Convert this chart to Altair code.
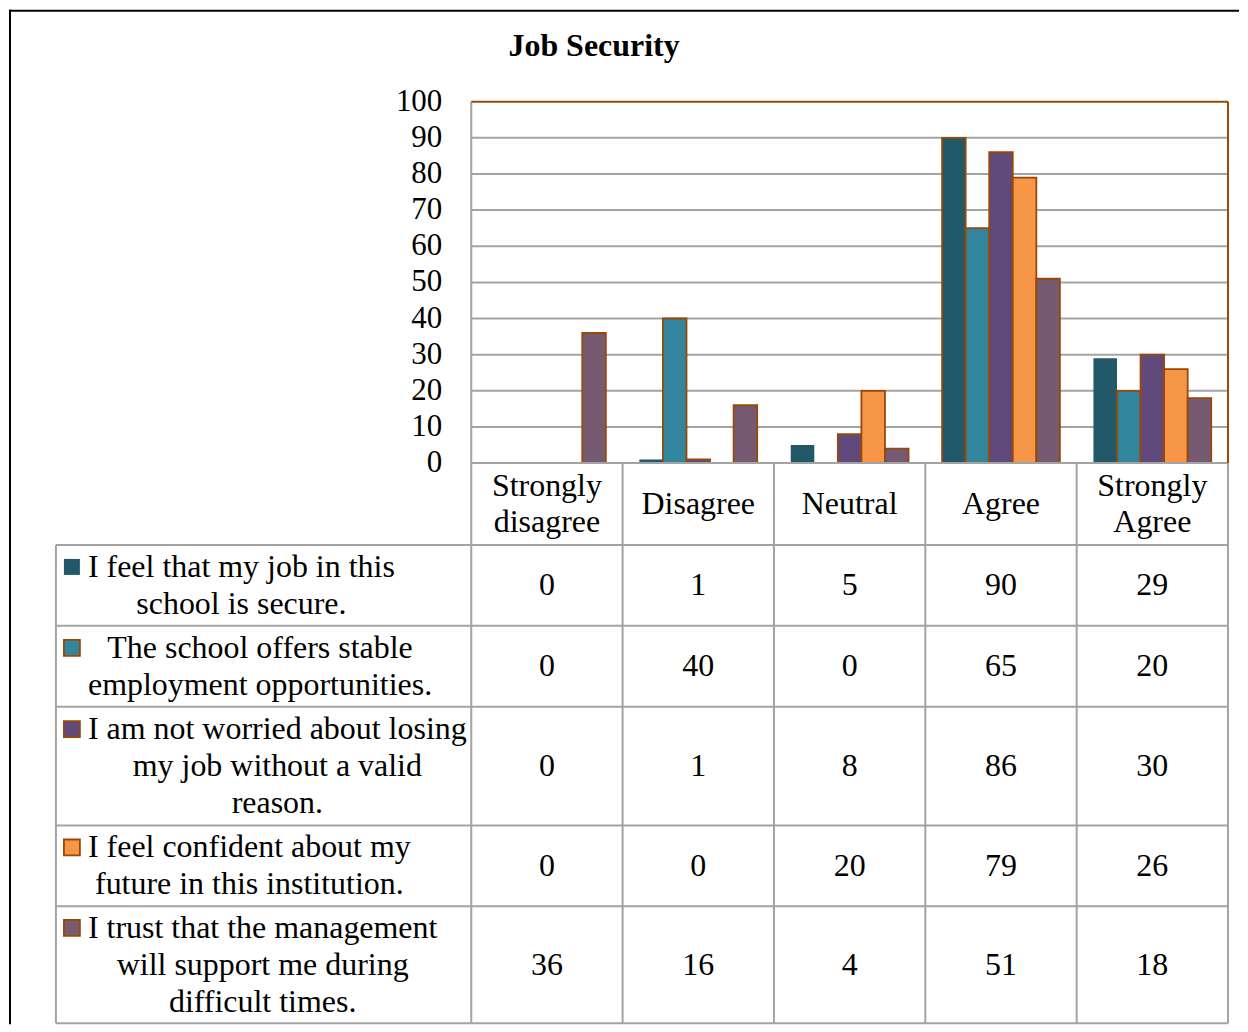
import altair as alt
import pandas as pd

# ---------------- data ----------------
title_text = "Job Security"
categories = ["Strongly disagree", "Disagree", "Neutral", "Agree", "Strongly Agree"]
category_lines = ["Strongly\ndisagree", "Disagree", "Neutral", "Agree", "Strongly\nAgree"]
series_labels = [
    "I feel that my job in this\nschool is secure.",
    "The school offers stable\nemployment opportunities.",
    "I am not worried about losing\nmy job without a valid\nreason.",
    "I feel confident about my\nfuture in this institution.",
    "I trust that the management\nwill support me during\ndifficult times.",
]
values_s1 = [0, 1, 5, 90, 29]
values_s2 = [0, 40, 0, 65, 20]
values_s3 = [0, 1, 8, 86, 30]
values_s4 = [0, 0, 20, 79, 26]
values_s5 = [36, 16, 4, 51, 18]
series_values = [values_s1, values_s2, values_s3, values_s4, values_s5]
y_ticks = [0, 10, 20, 30, 40, 50, 60, 70, 80, 90, 100]

# ---------------- styles ----------------
series_colors = ["#215968", "#31859C", "#604A7B", "#F79646", "#765A72"]
BROWN = "#984807"
GRID = "#A3A3A3"
FONT = "Liberation Serif"
FS = 32
TICK_FS = 31
LH = 37

# ---------------- layout (page pixels) ----------------
ORIGIN = 8
W, H = 1232, 1016
COL0, COLW = 471, 151.6
ZERO_Y, PX_PER_VAL = 462, 3.62
XMIN = (ORIGIN - COL0) / COLW
XMAX = XMIN + W / COLW
YMAX = (ZERO_Y - ORIGIN) / PX_PER_VAL
YMIN = YMAX - H / PX_PER_VAL


def ux(px):
    return (px - COL0) / COLW


def uy(py):
    return (ZERO_Y - py) / PX_PER_VAL


TABLE_LEFT = 55
ROW_EDGES = [544, 625, 706, 825, 906, 1023]
TABLE_BOTTOM = ROW_EDGES[-1]
HEADER_CENTER = (ZERO_Y + ROW_EDGES[0]) / 2
BAR_W = 23.6 / COLW
TEXT_LEFT = 87
SWATCH_X = 71
TICK_RIGHT = 442
TITLE_X, TITLE_Y = 594, 44

# Times New Roman advance widths (1/1000 em)
TNR = {" ": 250, ".": 250, ",": 250, "a": 444, "b": 500, "c": 444, "d": 500, "e": 444,
       "f": 333, "g": 500, "h": 500, "i": 278, "j": 278, "k": 500, "l": 278, "m": 778,
       "n": 500, "o": 500, "p": 500, "q": 500, "r": 333, "s": 389, "t": 278, "u": 500,
       "v": 500, "w": 722, "x": 500, "y": 500, "z": 444, "I": 333, "T": 611}


def text_width(s, size):
    return sum(TNR.get(c, 500) for c in s) / 1000.0 * size


def first_line_y(center_px, text):
    n = len(text.split("\n"))
    return center_px - (n - 1) / 2 * LH


xs = alt.Scale(domain=[XMIN, XMAX], nice=False, zero=False)
ys = alt.Scale(domain=[YMIN, YMAX], nice=False, zero=False)

# ---------------- bars ----------------
bar_rows = []
for j, vals in enumerate(series_values):
    for i, v in enumerate(vals):
        if v <= 0:
            continue
        x0 = i + 0.5 + (j - 2.5) * BAR_W
        bar_rows.append({"cat": categories[i], "series": j, "value": v,
                         "x0": x0, "x1": x0 + BAR_W, "fill": series_colors[j],
                         "outlined": not (j == 0 and categories[i] != "Agree")})
bars_df = pd.DataFrame(bar_rows)

bars = alt.Chart(bars_df).mark_bar(strokeWidth=1.8).encode(
    x=alt.X("x0:Q", scale=xs, axis=None),
    x2="x1:Q",
    y=alt.Y("value:Q", scale=ys, axis=None),
    y2=alt.datum(0),
    fill=alt.Fill("fill:N", scale=None),
    stroke=alt.condition("datum.outlined", alt.value(BROWN), alt.value(None)),
)


# ---------------- rules ----------------
def rules_df(items):
    return pd.DataFrame(items, columns=["x", "x2", "y", "y2", "c", "w"])


under = []
for v in y_ticks[1:-1]:
    under.append((0, 5, v, v, GRID, 2))
over = []
over.append((0, 0, uy(TABLE_BOTTOM), 100, GRID, 2))
over.append((0, 5, 0, 0, GRID, 2))
for r in ROW_EDGES:
    over.append((ux(TABLE_LEFT), 5, uy(r), uy(r), GRID, 2))
for i in range(1, 6):
    over.append((i, i, uy(TABLE_BOTTOM), 0, GRID, 2))
over.append((ux(TABLE_LEFT), ux(TABLE_LEFT), uy(TABLE_BOTTOM), uy(ROW_EDGES[0]), GRID, 2))
over.append((0, 5, 100, 100, BROWN, 2))
over.append((5, 5, 0, 100, BROWN, 2))
over.append((ux(9), ux(9), YMIN, uy(8), "#000000", 2))
over.append((ux(8), XMAX, uy(9), uy(9), "#000000", 2))


def rule_layer(items):
    return alt.Chart(rules_df(items)).mark_rule().encode(
        x=alt.X("x:Q", scale=xs, axis=None), x2="x2:Q",
        y=alt.Y("y:Q", scale=ys, axis=None), y2="y2:Q",
        color=alt.Color("c:N", scale=None),
        strokeWidth=alt.StrokeWidth("w:Q", scale=None),
    )


grid_layer = rule_layer(under)
lines_layer = rule_layer(over)

# ---------------- texts ----------------
row_centers = [(a + b) / 2 for a, b in zip(ROW_EDGES[:-1], ROW_EDGES[1:])]

text_rows = []
for i, lab in enumerate(category_lines):
    text_rows.append({"x": i + 0.5, "y": uy(first_line_y(HEADER_CENTER, lab)), "t": lab})
for j, vals in enumerate(series_values):
    for i, v in enumerate(vals):
        text_rows.append({"x": i + 0.5, "y": uy(row_centers[j]), "t": str(v)})
swatch_rows = []
for j, lab in enumerate(series_labels):
    lines = lab.split("\n")
    wmax = max(text_width(s, FS) for s in lines)
    fy = first_line_y(row_centers[j], lab)
    text_rows.append({"x": ux(TEXT_LEFT + wmax / 2), "y": uy(fy), "t": lab})
    swatch_rows.append({"x": ux(SWATCH_X), "y": uy(fy), "fill": series_colors[j],
                        "outlined": j != 0})
text_df = pd.DataFrame(text_rows)

body_text = alt.Chart(text_df).mark_text(
    font=FONT, fontSize=FS, color="#000000", align="center", baseline="middle",
    lineBreak="\n", lineHeight=LH,
).encode(
    x=alt.X("x:Q", scale=xs, axis=None),
    y=alt.Y("y:Q", scale=ys, axis=None),
    text="t:N",
)

title_df = pd.DataFrame([{"x": ux(TITLE_X), "y": uy(TITLE_Y), "t": title_text}])
title_layer = alt.Chart(title_df).mark_text(
    font=FONT, fontSize=FS, fontWeight="bold", color="#000000", align="center", baseline="middle",
).encode(
    x=alt.X("x:Q", scale=xs, axis=None),
    y=alt.Y("y:Q", scale=ys, axis=None),
    text="t:N",
)

tick_df = pd.DataFrame({"v": y_ticks, "x": [ux(TICK_RIGHT)] * len(y_ticks)})
tick_layer = alt.Chart(tick_df).mark_text(
    font=FONT, fontSize=TICK_FS, color="#000000", align="right", baseline="middle",
).encode(
    x=alt.X("x:Q", scale=xs, axis=None),
    y=alt.Y("v:Q", scale=ys, axis=None),
    text="v:N",
)

swatch_df = pd.DataFrame(swatch_rows)
swatches = alt.Chart(swatch_df).mark_point(shape="square", filled=True, size=256, opacity=1,
                                           strokeWidth=1.8).encode(
    x=alt.X("x:Q", scale=xs, axis=None),
    y=alt.Y("y:Q", scale=ys, axis=None),
    fill=alt.Fill("fill:N", scale=None),
    stroke=alt.condition("datum.outlined", alt.value(BROWN), alt.value(None)),
)

chart = alt.layer(
    grid_layer, bars, lines_layer, tick_layer, body_text, title_layer, swatches
).properties(
    width=W, height=H, padding=0, background="#FFFFFF"
).configure_view(stroke=None)

chart.save("out.html", embed_options={"renderer": "svg", "actions": False})
